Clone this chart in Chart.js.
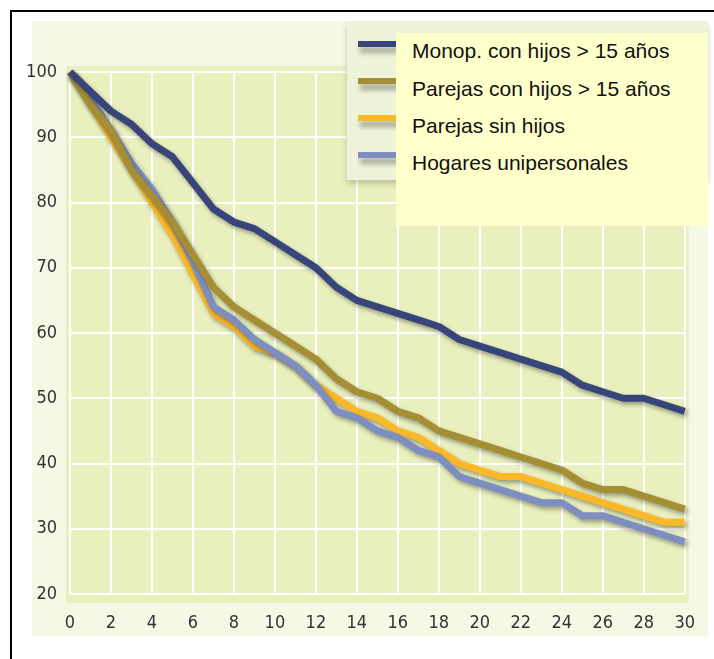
<!DOCTYPE html>
<html>
<head>
<meta charset="utf-8">
<script src="https://cdn.jsdelivr.net/npm/chart.js@4.4.0/dist/chart.umd.min.js"></script>
<style>
body { margin:0; background:#fff; width:714px; height:659px; overflow:hidden; position:relative; font-family:"Liberation Sans", Arial, sans-serif; }
#frame { position:absolute; left:10px; top:10px; width:720px; height:700px; border-left:2px solid #000; border-top:2px solid #000; }
#panel { position:absolute; left:32px; top:21px; width:676px; height:615px; background:#f4f8e4; }
#wrap { position:absolute; left:0; top:0; width:714px; height:659px; }
#legPanel { position:absolute; left:347px; top:21px; width:361px; height:159px; background:#eef3d9; box-shadow:0 4px 6px rgba(0,0,0,0.18); }
.swatch { position:absolute; left:358px; width:40px; height:6px; box-shadow:2px 6px 5px rgba(0,0,0,0.3); }
#legBox { position:absolute; left:396px; top:33px; width:312px; height:193px; background:#ffffcc; }
.item { position:absolute; left:16px; font-size:21px; line-height:24px; color:#111; white-space:nowrap; }
</style>
</head>
<body>
<div id="frame"></div>
<div id="panel"></div>
<div id="wrap"><canvas id="chart" width="714" height="659"></canvas></div>
<div id="legPanel"></div>
<div id="legend"></div>
<div id="legBox"></div>
<script>
// años transcurridos
var years = [0,1,2,3,4,5,6,7,8,9,10,11,12,13,14,15,16,17,18,19,20,21,22,23,24,25,26,27,28,29,30];

var monop = [100,97,94,92,89,87,83,79,77,76,74,72,70,67,65,64,63,62,61,59,58,57,56,55,54,52,51,50,50,49,48];
var parejasHijos = [100,95,91,85,81,77,72,67,64,62,60,58,56,53,51,50,48,47,45,44,43,42,41,40,39,37,36,36,35,34,33];
var parejasSin = [100,95,90,85,80,75,69,63,61,58,57,55,52,50,48,47,45,44,42,40,39,38,38,37,36,35,34,33,32,31,31];
var unipersonales = [100,96,91,86,82,77,71,64,62,59,57,55,52,48,47,45,44,42,41,38,37,36,35,34,34,32,32,31,30,29,28];

var seriesNames = ["Monop. con hijos > 15 años", "Parejas con hijos > 15 años", "Parejas sin hijos", "Hogares unipersonales"];
var seriesColors = ["#38457a", "#a68e35", "#fbb92a", "#7e8ec0"];
var seriesOrder = [0, 1, 3, 2];

var xTicks = [0,2,4,6,8,10,12,14,16,18,20,22,24,26,28,30];
var yTicks = [20,30,40,50,60,70,80,90,100];

function pts(vals) {
    return years.map(function (x, i) { return { x: x, y: vals[i] }; });
}

var allSeries = [monop, parejasHijos, parejasSin, unipersonales];

// legend (html)
var legend = document.getElementById("legend");
var box = document.getElementById("legBox");
var swTops = [41, 78, 115, 152];
var txtTops = [6, 44, 81, 118];
seriesNames.forEach(function (name, i) {
    var sw = document.createElement("div");
    sw.className = "swatch";
    sw.style.top = swTops[i] + "px";
    sw.style.background = seriesColors[i];
    legend.appendChild(sw);
    var t = document.createElement("div");
    t.className = "item";
    t.style.top = txtTops[i] + "px";
    t.textContent = name;
    box.appendChild(t);
});

var plotBg = {
    id: "plotBg",
    beforeDraw: function (chart) {
        var a = chart.chartArea, c = chart.ctx;
        c.save();
        c.fillStyle = "#e9f0be";
        c.fillRect(a.left - 4, a.top - 6, a.right - a.left + 8, a.bottom - a.top + 15);
        c.restore();
    }
};

var shadow = {
    id: "shadow",
    beforeDatasetDraw: function (chart) {
        var c = chart.ctx;
        c.save();
        c.shadowColor = "rgba(0,0,0,0.35)";
        c.shadowBlur = 4;
        c.shadowOffsetX = 2;
        c.shadowOffsetY = 3;
    },
    afterDatasetDraw: function (chart) {
        chart.ctx.restore();
    }
};

var tickFont = { family: "'Liberation Sans Narrow', 'DejaVu Sans Condensed', sans-serif", size: 18 };

new Chart(document.getElementById("chart").getContext("2d"), {
    type: "line",
    data: {
        datasets: allSeries.map(function (s, i) {
            return {
                label: seriesNames[i],
                data: pts(s),
                borderColor: seriesColors[i],
                borderWidth: 7,
                borderJoinStyle: "round",
                pointRadius: 0,
                tension: 0,
                order: seriesOrder[i],
                clip: false
            };
        })
    },
    options: {
        responsive: false,
        animation: false,
        layout: { padding: { left: 0, top: 72, right: 29, bottom: 20 } },
        plugins: { legend: { display: false }, tooltip: { enabled: false } },
        scales: {
            x: {
                type: "linear",
                min: 0,
                max: 30,
                afterFit: function (s) { s.height = 45; },
                afterBuildTicks: function (s) { s.ticks = xTicks.map(function (v) { return { value: v }; }); },
                grid: { color: "#ffffff", lineWidth: 2, drawTicks: false },
                border: { display: false },
                ticks: { padding: 19, color: "#333", font: tickFont, maxRotation: 0, autoSkip: false }
            },
            y: {
                min: 20,
                max: 100,
                afterFit: function (s) { s.width = 70; },
                afterBuildTicks: function (s) { s.ticks = yTicks.map(function (v) { return { value: v }; }); },
                grid: { color: "#ffffff", lineWidth: 2, drawTicks: false },
                border: { display: false },
                ticks: { padding: 13, color: "#333", font: tickFont }
            }
        }
    },
    plugins: [plotBg, shadow]
});
</script>
</body>
</html>
